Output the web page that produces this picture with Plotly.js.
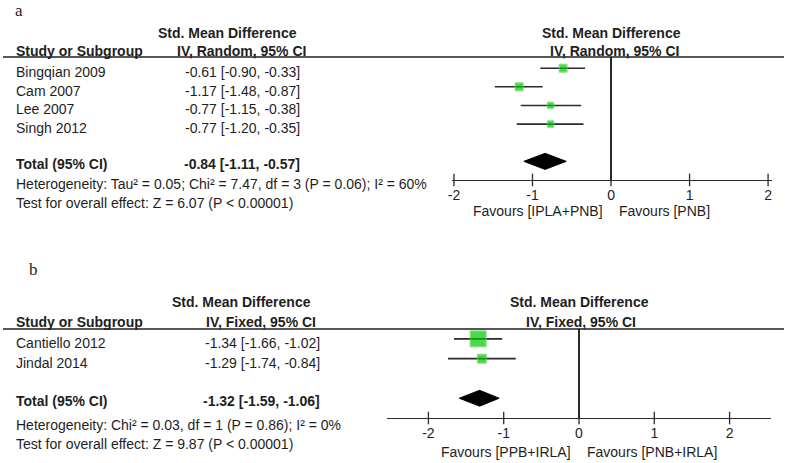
<!DOCTYPE html>
<html>
<head>
<meta charset="utf-8">
<script src="https://cdn.plot.ly/plotly-3.0.1.min.js"></script>
<style>html,body{margin:0;padding:0;background:#fff;}#chart{width:787px;height:463px;}</style>
</head>
<body>
<div id="chart"></div>
<script>
// ---- Data: panel a ----
const studiesA = ["Bingqian 2009", "Cam 2007", "Lee 2007", "Singh 2012"];
const smdA = [-0.61, -1.17, -0.77, -0.77];
const loA = [-0.90, -1.48, -1.15, -1.20];
const hiA = [-0.33, -0.87, -0.38, -0.35];
const totalA = [-0.84, -1.11, -0.57];
const hetA = "Heterogeneity: Tau\u00b2 = 0.05; Chi\u00b2 = 7.47, df = 3 (P = 0.06); I\u00b2 = 60%";
const testA = "Test for overall effect: Z = 6.07 (P < 0.00001)";
const favA = ["Favours [IPLA+PNB]", "Favours [PNB]"];
const methodA = "IV, Random, 95% CI";

// ---- Data: panel b ----
const studiesB = ["Cantiello 2012", "Jindal 2014"];
const smdB = [-1.34, -1.29];
const loB = [-1.66, -1.74];
const hiB = [-1.02, -0.84];
const totalB = [-1.32, -1.59, -1.06];
const hetB = "Heterogeneity: Chi\u00b2 = 0.03, df = 1 (P = 0.86); I\u00b2 = 0%";
const testB = "Test for overall effect: Z = 9.87 (P < 0.00001)";
const favB = ["Favours [PPB+IRLA]", "Favours [PNB+IRLA]"];
const methodB = "IV, Fixed, 95% CI";

const tickVals = [-2, -1, 0, 1, 2];
const tickText = ["-2", "-1", "0", "1", "2"];

// ---- Styles ----
const W = 787, H = 463;
const px = x => x / W;
const py = y => 1 - y / H;
const FONT = "Liberation Sans, Arial, sans-serif";
const FS = 14;
const TXT = "#1e1e1e";
const GREEN = "rgb(0,200,0)";
const sizesA = [8, 8, 6.5, 6.5];
const sizesB = [16, 9];

function fmt(v) { return v.toFixed(2); }
function ciText(m, l, h) { return fmt(m) + " [" + fmt(l) + ", " + fmt(h) + "]"; }

const traces = [];
const annotations = [];
const shapes = [];

function panel(cfg) {
  const n = cfg.studies.length;
  const rows = cfg.studies.map((_, i) => i);
  const totalRow = n + 1;
  const axisRow = n + 2;
  traces.push({
    type: "scatter", mode: "markers", xaxis: cfg.xa, yaxis: cfg.ya,
    x: cfg.smd, y: rows,
    error_x: { type: "data", symmetric: false,
      array: cfg.smd.map((m, i) => cfg.hi[i] - m),
      arrayminus: cfg.smd.map((m, i) => m - cfg.lo[i]),
      color: "#2a2a2a", thickness: 1.6, width: 0 },
    marker: { symbol: "square", color: GREEN, size: cfg.sizes, line: { color: "rgb(90,215,90)", width: 1 } },
    hoverinfo: "skip", cliponaxis: false
  });
  const t = cfg.total;
  const hh = cfg.dh;
  traces.push({
    type: "scatter", mode: "lines", xaxis: cfg.xa, yaxis: cfg.ya,
    x: [t[1], t[0], t[2], t[0], t[1]],
    y: [totalRow, totalRow - hh, totalRow, totalRow + hh, totalRow],
    fill: "toself", fillcolor: "#000", line: { color: "#000", width: 1 }, hoverinfo: "skip"
  });
  traces.push({
    type: "scatter", mode: "markers", xaxis: cfg.xa, yaxis: cfg.ya,
    x: tickVals, y: tickVals.map(() => axisRow),
    marker: { symbol: "line-ns-open", size: 9, color: "#2a2a2a", line: { color: "#2a2a2a", width: 1.3 } },
    hoverinfo: "skip", cliponaxis: false
  });
  const f = { family: FONT, size: FS, color: TXT };
  cfg.studies.forEach((s, i) => {
    annotations.push({ xref: "paper", yref: cfg.ya, x: px(14), y: i, yshift: -4, xanchor: "left", yanchor: "middle", showarrow: false, text: s, font: f });
    annotations.push({ xref: "paper", yref: cfg.ya, x: px(cfg.valRight), y: i, yshift: -4, xanchor: "right", yanchor: "middle", showarrow: false, text: ciText(cfg.smd[i], cfg.lo[i], cfg.hi[i]), font: f });
  });
  annotations.push({ xref: "paper", yref: cfg.ya, x: px(14), y: totalRow, yshift: -3, xanchor: "left", yanchor: "middle", showarrow: false, text: "<b>Total (95% CI)</b>", font: f });
  annotations.push({ xref: "paper", yref: cfg.ya, x: px(cfg.valRight), y: totalRow, yshift: -3, xanchor: "right", yanchor: "middle", showarrow: false, text: "<b>" + ciText(t[0], t[1], t[2]) + "</b>", font: f });
  const P = (x, y, text, anchor, extra) => annotations.push(Object.assign({ xref: "paper", yref: "paper", x: px(x), y: py(y), xanchor: anchor, yanchor: "middle", showarrow: false, text: text, font: f }, extra || {}));
  P(14, cfg.hetY, cfg.het, "left");
  P(14, cfg.testY, cfg.test, "left");
  P(14, cfg.headY2, "<b>Study or Subgroup</b>", "left");
  P(cfg.h1x, cfg.headY1, "<b>Std. Mean Difference</b>", "center");
  P(cfg.h2x, cfg.headY2, "<b>" + cfg.method + "</b>", "center");
  P(cfg.rh1x, cfg.headY1, "<b>Std. Mean Difference</b>", "center");
  P(cfg.rh2x, cfg.headY2, "<b>" + cfg.method + "</b>", "center");
  P(cfg.zeroX - 6, cfg.favY, cfg.fav[0], "right");
  P(cfg.zeroX + 6, cfg.favY, cfg.fav[1], "left");
  P(cfg.labX, cfg.labY, cfg.label, "left", { yanchor: "top", font: { family: "Liberation Serif, Times New Roman, serif", size: 17, color: TXT } });
  shapes.push({ type: "line", xref: "paper", yref: "paper", x0: px(3), x1: px(784), y0: py(cfg.lineY), y1: py(cfg.lineY), line: { color: "#1e1e1e", width: 1.4 } });
}

panel({ xa: "x", ya: "y", studies: studiesA, smd: smdA, lo: loA, hi: hiA, total: totalA, sizes: sizesA, dh: 0.43,
  valRight: 302, het: hetA, test: testA, hetY: 184, testY: 203, headY1: 33, headY2: 51,
  h1x: 227, h2x: 242, rh1x: 611.5, rh2x: 614, method: methodA, fav: favA, zeroX: 611, favY: 211,
  label: "a", labX: 13, labY: -1, lineY: 57 });
panel({ xa: "x2", ya: "y2", studies: studiesB, smd: smdB, lo: loB, hi: hiB, total: totalB, sizes: sizesB, dh: 0.4,
  valRight: 322, het: hetB, test: testB, hetY: 425, testY: 444, headY1: 302, headY2: 322,
  h1x: 241, h2x: 261, rh1x: 579, rh2x: 581, method: methodB, fav: favB, zeroX: 579, favY: 452,
  label: "b", labX: 27, labY: 258, lineY: 329 });

const axFont = { family: FONT, size: FS, color: TXT };
const layout = {
  width: W, height: H, margin: { l: 0, r: 0, t: 0, b: 0 },
  paper_bgcolor: "#fff", plot_bgcolor: "rgba(0,0,0,0)", showlegend: false,
  xaxis: { domain: [px(452), px(772)], range: [-2.025, 2.05], tickvals: tickVals, ticktext: tickText,
    showgrid: false, zeroline: true, zerolinecolor: "#2a2a2a", zerolinewidth: 1.4,
    showline: true, linecolor: "#2a2a2a", linewidth: 1.4, ticks: "", ticklabelstandoff: 2,
    tickfont: axFont, anchor: "y", fixedrange: true },
  yaxis: { domain: [py(180), py(57)], range: [6, -0.6], visible: false, anchor: "x", fixedrange: true },
  xaxis2: { domain: [px(387), px(771)], range: [-2.55, 2.55], tickvals: tickVals, ticktext: tickText,
    showgrid: false, zeroline: true, zerolinecolor: "#2a2a2a", zerolinewidth: 1.4,
    showline: true, linecolor: "#2a2a2a", linewidth: 1.4, ticks: "", ticklabelstandoff: 2,
    tickfont: axFont, anchor: "y2", fixedrange: true },
  yaxis2: { domain: [py(418), py(329)], range: [4, -0.5], visible: false, anchor: "x2", fixedrange: true },
  annotations: annotations, shapes: shapes
};

Plotly.newPlot("chart", traces, layout, { displayModeBar: false, staticPlot: true });
</script>
</body>
</html>
